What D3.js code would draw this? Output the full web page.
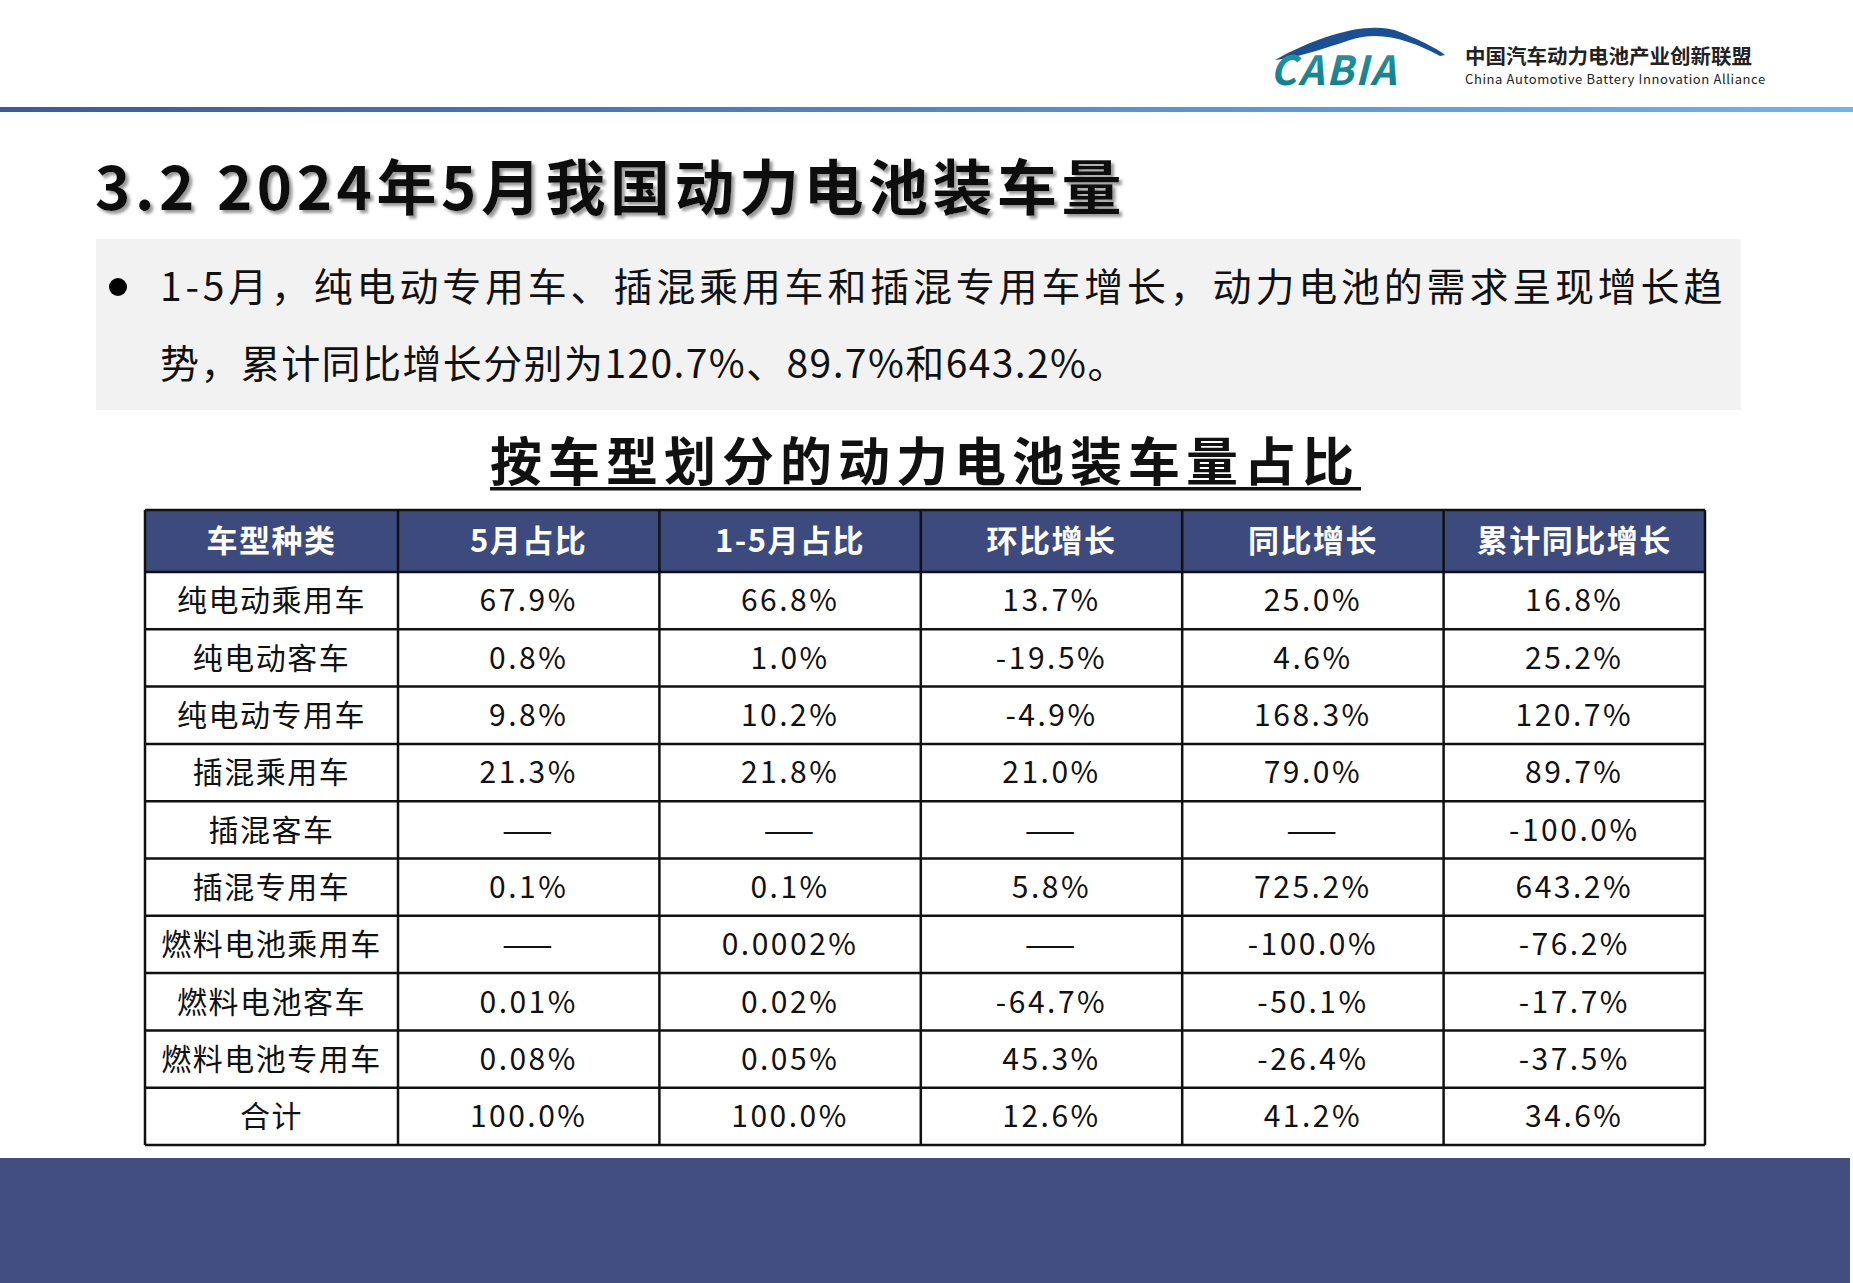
<!DOCTYPE html>
<html><head><meta charset="utf-8">
<script src="https://cdn.jsdelivr.net/npm/d3@7"></script>
<style>body{margin:0;background:#fff}svg{display:block}text{font-family:"Noto Sans CJK SC","Noto Sans",sans-serif}</style>
</head><body>
<script>
const headers = ["车型种类","5月占比","1-5月占比","环比增长","同比增长","累计同比增长"];
const categories = ["纯电动乘用车","纯电动客车","纯电动专用车","插混乘用车","插混客车","插混专用车","燃料电池乘用车","燃料电池客车","燃料电池专用车","合计"];
const shareMay = ["67.9%","0.8%","9.8%","21.3%","——","0.1%","——","0.01%","0.08%","100.0%"];
const shareJanMay = ["66.8%","1.0%","10.2%","21.8%","——","0.1%","0.0002%","0.02%","0.05%","100.0%"];
const momGrowth = ["13.7%","-19.5%","-4.9%","21.0%","——","5.8%","——","-64.7%","45.3%","12.6%"];
const yoyGrowth = ["25.0%","4.6%","168.3%","79.0%","——","725.2%","-100.0%","-50.1%","-26.4%","41.2%"];
const cumYoy = ["16.8%","25.2%","120.7%","89.7%","-100.0%","643.2%","-76.2%","-17.7%","-37.5%","34.6%"];

const W=1853,H=1283;
const svg=d3.select("body").append("svg").attr("width",W).attr("height",H);
const defs=svg.append("defs");
const g=defs.append("linearGradient").attr("id","hl");
g.append("stop").attr("offset","0").attr("stop-color","#3a5a9e");
g.append("stop").attr("offset","1").attr("stop-color","#6eb4f2");
const lg=defs.append("linearGradient").attr("id","lg").attr("x1",0).attr("x2",0).attr("y1",0).attr("y2",1);
lg.append("stop").attr("offset","0").attr("stop-color","#2a9aa8");
lg.append("stop").attr("offset","1").attr("stop-color","#0b7a86");
const f=defs.append("filter").attr("id","sh");
f.append("feDropShadow").attr("dx",3).attr("dy",3).attr("stdDeviation",1.5).attr("flood-color","#999");

svg.append("rect").attr("x",0).attr("y",107).attr("width",W).attr("height",5).attr("fill","url(#hl)");
svg.append("path").attr("d","M1275,60 C1320,35 1370,20 1400,32 C1420,40 1440,50 1445,55 L1440,56 C1410,40 1380,30 1350,40 C1320,50 1295,58 1275,60Z").attr("fill","#1a4f95");
svg.append("text").attr("x",1270).attr("y",85).attr("font-size",40).attr("font-style","italic").attr("font-weight","bold").attr("fill","url(#lg)").attr("letter-spacing",2).text("CABIA");
svg.append("text").attr("x",1465).attr("y",64).attr("font-size",20.5).attr("font-weight","bold").attr("fill","#222").text("中国汽车动力电池产业创新联盟");
svg.append("text").attr("x",1465).attr("y",84).attr("font-size",13).attr("letter-spacing",0.6).attr("fill","#222").text("China Automotive Battery Innovation Alliance");

svg.append("text").attr("x",95).attr("y",210).attr("font-size",60).attr("font-weight","bold").attr("letter-spacing",4.5).attr("fill","#111").attr("filter","url(#sh)").text("3.2 2024年5月我国动力电池装车量");

svg.append("rect").attr("x",96).attr("y",239).attr("width",1645).attr("height",171).attr("fill","#f2f2f2");
svg.append("circle").attr("cx",118).attr("cy",287).attr("r",9).attr("fill","#000");
svg.append("text").attr("x",160).attr("y",301).attr("font-size",39).attr("letter-spacing",3.8).attr("fill","#111").text("1-5月，纯电动专用车、插混乘用车和插混专用车增长，动力电池的需求呈现增长趋");
svg.append("text").attr("x",160).attr("y",378).attr("font-size",39).attr("letter-spacing",1.4).attr("fill","#111").text("势，累计同比增长分别为120.7%、89.7%和643.2%。");

svg.append("text").attr("x",925).attr("y",481).attr("text-anchor","middle").attr("font-size",52).attr("font-weight","bold").attr("letter-spacing",6).attr("fill","#111").text("按车型划分的动力电池装车量占比");
svg.append("rect").attr("x",490).attr("y",487).attr("width",871).attr("height",3.5).attr("fill","#111");

const cols=[categories,shareMay,shareJanMay,momGrowth,yoyGrowth,cumYoy];
const xb=d3.scaleBand().domain(d3.range(1,headers.length)).range([398,1705]);
const x=i=>i===0?145:xb(i);
const cw=i=>i===0?253:xb.bandwidth();
const y=d3.scaleBand().domain(d3.range(categories.length)).range([572,1145]);
svg.append("rect").attr("x",145).attr("y",510).attr("width",1560).attr("height",62).attr("fill","#3d4a7d");
headers.forEach((h,i)=>svg.append("text").attr("x",x(i)+cw(i)/2).attr("y",541).attr("dy","0.36em").attr("text-anchor","middle").attr("font-size",31).attr("font-weight","bold").attr("letter-spacing",1.5).attr("fill","#fff").text(h));
cols.forEach((c,i)=>c.forEach((v,r)=>svg.append("text").attr("x",x(i)+cw(i)/2).attr("y",y(r)+y.bandwidth()/2).attr("dy","0.36em").attr("text-anchor","middle").attr("font-size",30).attr("letter-spacing",i===0?1.5:2.5).attr("fill","#111").text(v)));
const gl=svg.append("g").attr("stroke","#111").attr("stroke-width",2.5);
d3.range(headers.length+1).forEach(i=>{const xx=i<headers.length?x(i):1705;gl.append("line").attr("x1",xx).attr("x2",xx).attr("y1",510).attr("y2",1145);});
[510].concat(d3.range(categories.length).map(r=>y(r)),[1145]).forEach(yy=>gl.append("line").attr("x1",145).attr("x2",1705).attr("y1",yy).attr("y2",yy));

svg.append("rect").attr("x",0).attr("y",1158).attr("width",1850).attr("height",125).attr("fill","#434e80");
</script>
</body></html>
